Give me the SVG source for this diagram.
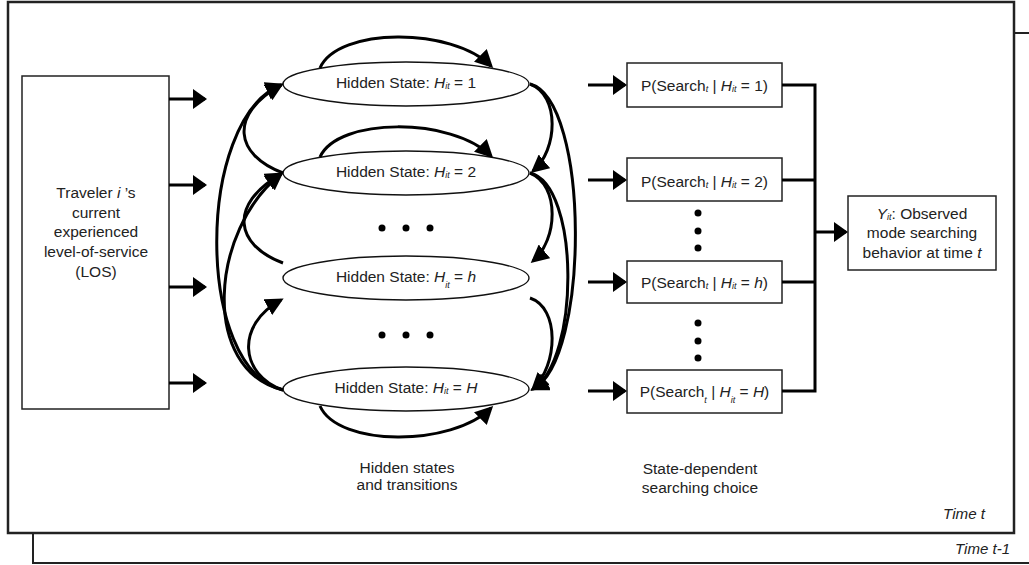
<svg xmlns="http://www.w3.org/2000/svg" width="1029" height="565" viewBox="0 0 1029 565">
<style>
text{font-family:"Liberation Sans",Arial,sans-serif;font-size:15.5px;fill:#222}
.i{font-style:italic}
.s{font-style:italic;font-size:9px}
.m{text-anchor:middle}
.box{fill:#fff;stroke:#222;stroke-width:1.5}
.ell{fill:#fff;stroke:#111;stroke-width:1.4}
.ln{fill:none;stroke:#000;stroke-width:3}
.cv{fill:none;stroke:#000;stroke-width:3}
.dot{fill:#000}
</style>
<defs>
<marker id="a" markerUnits="userSpaceOnUse" markerWidth="14" markerHeight="20" refX="12" refY="10" orient="auto"><path d="M0,0 L14,10 L0,20 z" fill="#000"/></marker>
<marker id="c" markerUnits="userSpaceOnUse" markerWidth="18" markerHeight="18" refX="15" refY="9" orient="auto"><path d="M0,0 L18,9 L0,18 z" fill="#000"/></marker>
</defs>

<g id="frame-back">
<rect x="33" y="33" width="1020" height="530" fill="#fff" stroke="#222" stroke-width="2"/>
<text class="i" x="1010" y="554" text-anchor="end" font-size="14" textLength="55" lengthAdjust="spacingAndGlyphs">Time  t-1</text>
</g>
<g id="frame-front">
<rect x="8" y="2" width="1006" height="531" fill="#fff" stroke="#222" stroke-width="2.5"/>
<text class="i" x="985" y="519" text-anchor="end" font-size="14" textLength="42" lengthAdjust="spacingAndGlyphs">Time  t</text>
</g>

<g id="los">
<rect class="box" x="22" y="76" width="147" height="333"/>
<text class="m" x="96" y="198">Traveler <tspan class="i">i</tspan> ’s</text>
<text class="m" x="96" y="218">current</text>
<text class="m" x="96" y="237">experienced</text>
<text class="m" x="96" y="257">level-of-service</text>
<text class="m" x="96" y="277">(LOS)</text>
</g>

<g id="state1">
<ellipse class="ell" cx="406" cy="84" rx="123" ry="22"/>
<text class="m" x="406" y="88">Hidden State: <tspan class="i">H</tspan><tspan class="s" dy="1">it</tspan><tspan dy="-1"> = 1</tspan></text>
</g>
<g id="state2">
<ellipse class="ell" cx="406" cy="173" rx="123" ry="22"/>
<text class="m" x="406" y="177">Hidden State: <tspan class="i">H</tspan><tspan class="s" dy="1">it</tspan><tspan dy="-1"> = 2</tspan></text>
</g>
<g id="stateh">
<ellipse class="ell" cx="406" cy="278" rx="123" ry="22"/>
<text class="m" x="406" y="282">Hidden State: <tspan class="i">H</tspan><tspan class="s" dy="6">it</tspan><tspan dy="-6"> = </tspan><tspan class="i">h</tspan></text>
</g>
<g id="stateH">
<ellipse class="ell" cx="406" cy="389" rx="123" ry="22"/>
<text class="m" x="406" y="393">Hidden State: <tspan class="i">H</tspan><tspan class="s" dy="1">it</tspan><tspan dy="-1"> = </tspan><tspan class="i">H</tspan></text>
</g>

<g id="state-dots">
<circle class="dot" cx="382" cy="228" r="3.5"/><circle class="dot" cx="406" cy="228" r="3.5"/><circle class="dot" cx="430" cy="228" r="3.5"/>
<circle class="dot" cx="382" cy="335" r="3.5"/><circle class="dot" cx="406" cy="335" r="3.5"/><circle class="dot" cx="430" cy="335" r="3.5"/>
</g>

<g id="p1">
<rect class="box" x="627" y="63" width="155" height="44"/>
<text class="m" x="704.5" y="91">P(Search<tspan class="s" dy="1">t</tspan><tspan dy="-1"> | </tspan><tspan class="i">H</tspan><tspan class="s" dy="1">it</tspan><tspan dy="-1"> = 1)</tspan></text>
</g>
<g id="p2">
<rect class="box" x="627" y="158" width="155" height="43"/>
<text class="m" x="704.5" y="187">P(Search<tspan class="s" dy="1">t</tspan><tspan dy="-1"> | </tspan><tspan class="i">H</tspan><tspan class="s" dy="1">it</tspan><tspan dy="-1"> = 2)</tspan></text>
</g>
<g id="ph">
<rect class="box" x="627" y="261" width="155" height="42"/>
<text class="m" x="704.5" y="288">P(Search<tspan class="s" dy="1">t</tspan><tspan dy="-1"> | </tspan><tspan class="i">H</tspan><tspan class="s" dy="1">it</tspan><tspan dy="-1"> = </tspan><tspan class="i">h</tspan>)</text>
</g>
<g id="pH">
<rect class="box" x="627" y="370" width="155" height="43"/>
<text class="m" x="704.5" y="397">P(Search<tspan class="s" dy="6">t</tspan><tspan dy="-6"> | </tspan><tspan class="i">H</tspan><tspan class="s" dy="6">it</tspan><tspan dy="-6"> = </tspan><tspan class="i">H</tspan>)</text>
</g>

<g id="p-dots">
<circle class="dot" cx="698" cy="213" r="3.5"/><circle class="dot" cx="698" cy="231" r="3.5"/><circle class="dot" cx="698" cy="248" r="3.5"/>
<circle class="dot" cx="698" cy="323" r="3.5"/><circle class="dot" cx="698" cy="341" r="3.5"/><circle class="dot" cx="698" cy="358" r="3.5"/>
</g>

<g id="observed">
<rect class="box" x="848" y="196" width="148" height="74"/>
<text class="m" x="922" y="219"><tspan class="i">Y</tspan><tspan class="s" dy="1">it</tspan><tspan dy="-1">: Observed</tspan></text>
<text class="m" x="922" y="238">mode searching</text>
<text class="m" x="922" y="258">behavior at time <tspan class="i">t</tspan></text>
</g>

<g id="labels">
<text class="m" x="407" y="473">Hidden states</text>
<text class="m" x="407" y="490">and transitions</text>
<text class="m" x="700" y="474">State-dependent</text>
<text class="m" x="700" y="493">searching choice</text>
</g>

<g id="connectors">
<line class="ln" x1="169" y1="99" x2="205" y2="99" marker-end="url(#a)"/>
<line class="ln" x1="169" y1="185" x2="205" y2="185" marker-end="url(#a)"/>
<line class="ln" x1="169" y1="287" x2="205" y2="287" marker-end="url(#a)"/>
<line class="ln" x1="169" y1="383" x2="205" y2="383" marker-end="url(#a)"/>

<path class="cv" d="M320,68 C338,27 452,27 491,66" marker-end="url(#c)"/>
<path class="cv" d="M320,157 C338,117 452,117 491,156" marker-end="url(#c)"/>
<path class="cv" d="M320,406 C338,447 452,447 491,408" marker-end="url(#c)"/>

<path class="cv" d="M283,173 C235,155 228,115 281,85" marker-end="url(#c)"/>
<path class="cv" d="M283,263 C235,245 228,205 281,174" marker-end="url(#c)"/>
<path class="cv" d="M283,390 C240,375 235,325 281,300" marker-end="url(#c)"/>
<path class="cv" d="M283,390 C200,370 210,230 281,174" marker-end="url(#c)"/>
<path class="cv" d="M283,390 C195,370 195,120 281,85" marker-end="url(#c)"/>

<path class="cv" d="M530,84 C560,95 558,150 533,171" marker-end="url(#c)"/>
<path class="cv" d="M530,173 C560,185 558,240 533,261" marker-end="url(#c)"/>
<path class="cv" d="M530,298 C560,308 558,365 533,389" marker-end="url(#c)"/>
<path class="cv" d="M530,84 C590,100 590,360 533,389" marker-end="url(#c)"/>
<path class="cv" d="M530,173 C580,185 580,360 533,389" marker-end="url(#c)"/>

<line class="ln" x1="588" y1="85" x2="625" y2="85" marker-end="url(#a)"/>
<line class="ln" x1="588" y1="180" x2="625" y2="180" marker-end="url(#a)"/>
<line class="ln" x1="588" y1="282" x2="625" y2="282" marker-end="url(#a)"/>
<line class="ln" x1="588" y1="391" x2="625" y2="391" marker-end="url(#a)"/>

<path class="ln" d="M782,85 H815 V391 H782 M782,180 H815 M782,282 H815"/>
<line class="ln" x1="815" y1="232" x2="846" y2="232" marker-end="url(#a)"/>
</g>
</svg>
